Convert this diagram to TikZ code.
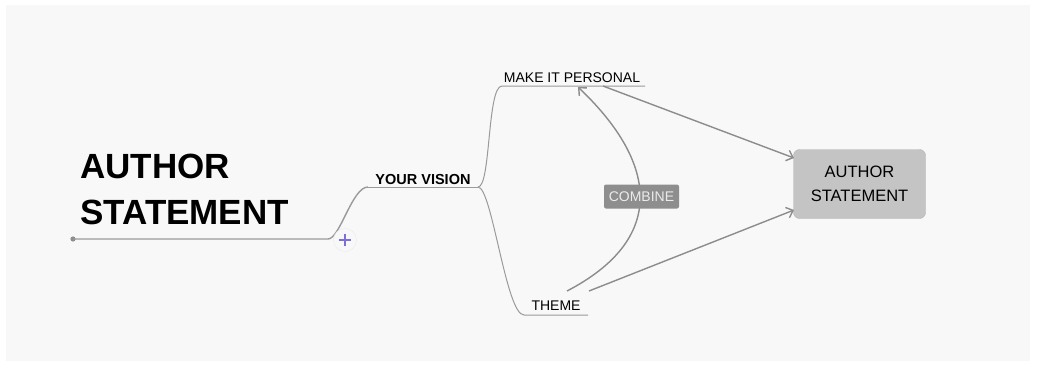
\documentclass[tikz,border=0pt]{standalone}
\usepackage{fontspec}
\setmainfont{Liberation Sans}
\usetikzlibrary{arrows.meta}

\definecolor{canvas}{HTML}{F8F8F8}
\definecolor{branch}{HTML}{9A9A9A}
\definecolor{link}{HTML}{8C8C8C}
\definecolor{boxgray}{HTML}{C4C4C4}
\definecolor{boxline}{HTML}{B4B4B4}
\definecolor{tagfill}{HTML}{8E8E8E}
\definecolor{plusblue}{HTML}{7A70D8}

\tikzset{
    topic/.style={inner sep=0pt, font=\fontsize{14}{16}\selectfont},
    branchline/.style={branch, line width=1pt},
    linkarrow/.style={link, line width=1.4pt, -{Straight Barb[length=6pt, width=11pt]}},
}

\begin{document}
\begin{tikzpicture}[x=1pt, y=-1pt]
    \useasboundingbox (0, 0) rectangle (1037, 367);
    \fill [canvas] (6, 5) rectangle (1030, 361);
    % central title
    \node [anchor=base west, align=left, inner sep=0pt,
           font=\fontsize{35}{46}\selectfont\bfseries] (title) at (80, 224) {AUTHOR\\STATEMENT};
    % root line and its branches
    \coordinate (root) at (73, 239);
    \coordinate (rootR) at (328, 239);
    \coordinate (visionL) at (368, 187);
    \coordinate (visionR) at (478, 187);
    \coordinate (personalL) at (502, 86);
    \coordinate (personalR) at (645, 86);
    \coordinate (themeL) at (524, 315);
    \coordinate (themeR) at (588, 315);
    \fill [link] (root) circle (2.6);
    \draw [branch, line width=1.4pt] (root) -- (rootR)
        .. controls (340, 239) and (352, 187) .. (visionL);
    \draw [branchline] (visionL) -- (visionR);
    \draw [branchline] (visionR) .. controls (491, 187) and (487, 86) .. (personalL) -- (personalR);
    \draw [branchline] (visionR) .. controls (492, 187) and (506, 315) .. (themeL) -- (themeR);
    \node [topic, anchor=base, font=\fontsize{14.5}{16}\selectfont\bfseries] (vision) at (423, 184) {YOUR VISION};
    \node [topic, anchor=base] (personal) at (572, 82) {MAKE IT PERSONAL};
    \node [topic, anchor=base] (theme) at (556, 310) {THEME};
    % add button
    \node [circle, draw=black!8, fill=canvas, minimum size=23pt, inner sep=0pt] (add) at (345, 240) {};
    \draw [plusblue, line width=2pt] ([xshift=-6pt]add.center) -- ([xshift=6pt]add.center);
    \draw [plusblue, line width=2pt] ([yshift=-6pt]add.center) -- ([yshift=6pt]add.center);
    % result box
    \node [draw=boxline, fill=boxgray, rounded corners=6pt, minimum width=132pt, minimum height=69pt,
           align=center, font=\fontsize{16.5}{24}\selectfont] (result) at (859.5, 184) {AUTHOR\\STATEMENT};
    \coordinate (inTop) at (794, 158);
    \coordinate (inBottom) at (794, 210);
    \coordinate (personalOut) at (603, 86);
    \coordinate (personalIn) at (578, 87);
    \coordinate (themeOut) at (589, 291);
    \coordinate (themeUp) at (567, 291);
    \draw [linkarrow] (personalOut) -- (inTop);
    \draw [linkarrow] (themeOut) -- (inBottom);
    \draw [linkarrow] (themeUp) .. controls (665, 240) and (660, 165) .. (personalIn);
    \node [fill=tagfill, text=black!8, rounded corners=2pt, minimum width=75pt, minimum height=24pt,
           inner sep=0pt, font=\fontsize{14}{16}\selectfont] (combine) at (641.5, 196.5) {COMBINE};
\end{tikzpicture}
\end{document}
